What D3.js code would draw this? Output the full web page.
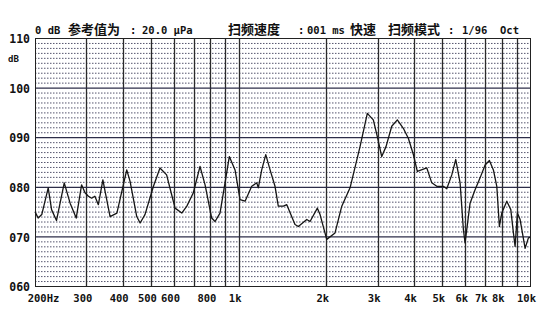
<!DOCTYPE html>
<html>
<head>
<meta charset="utf-8">
<script src="https://cdn.jsdelivr.net/npm/d3@7"></script>
<style>
  body { margin: 0; background: #fff; }
  svg { display: block; }
  .lbl { font-family: 'DejaVu Sans Mono', monospace; font-weight: bold; fill: #111; }
  .cjk { font-family: 'Noto Sans CJK SC', sans-serif; font-weight: bold; fill: #111; }
</style>
</head>
<body>
<script>
// Data
var freqs = [200, 205, 211, 222, 228, 237, 252, 264, 277, 289, 297, 305, 313, 321, 330, 342, 348, 362, 382, 413,
  424, 447, 459, 477, 510, 537, 566, 589, 605, 638, 664, 699, 737, 767, 808, 830, 863, 898, 929, 972,
  1011, 1052, 1109, 1154, 1168, 1200, 1239, 1282, 1333, 1368, 1424, 1463, 1561, 1603, 1713, 1758, 1863, 1903, 2006, 2142,
  2259, 2412, 2610, 2765, 2899, 2992, 3098, 3205, 3353, 3505, 3675, 3823, 3978, 4105, 4424, 4601, 4787, 5044, 5180, 5389,
  5562, 5755, 5907, 5986, 6228, 6479, 6741, 7013, 7256, 7488, 7692, 7851, 8002, 8325, 8592, 8771, 8889, 9052, 9248, 9621,
  9876, 10000]
var levels = [75.0, 73.7, 74.4, 79.8, 75.4, 73.2, 80.8, 76.7, 73.7, 80.4, 78.8, 78.1, 77.7, 78.1, 76.4, 81.4, 79.1, 74.0, 74.7, 83.4,
  81.1, 74.0, 72.7, 74.4, 80.1, 83.8, 82.4, 78.4, 75.7, 74.7, 76.1, 78.8, 84.1, 80.4, 73.7, 73.0, 74.7, 80.8, 86.1, 83.4,
  77.4, 77.1, 80.1, 80.8, 79.8, 83.4, 86.5, 83.4, 80.1, 76.1, 76.1, 76.4, 72.4, 72.0, 73.4, 73.0, 75.7, 74.4, 69.4, 70.7,
  76.1, 79.8, 88.1, 94.8, 93.5, 90.1, 86.1, 88.1, 92.2, 93.5, 91.8, 89.8, 86.5, 83.1, 83.8, 80.8, 80.1, 80.1, 79.6, 82.4,
  85.5, 80.8, 71.4, 68.7, 76.7, 79.4, 81.8, 84.4, 85.3, 83.4, 80.1, 72.0, 74.7, 77.1, 75.4, 70.7, 68.0, 74.7, 73.4, 67.6,
  69.7, 69.8]

var yTicks = [60, 70, 80, 90, 100, 110]
var xTickValues = [200, 300, 400, 500, 600, 800, 1000, 2000, 3000, 4000, 5000, 6000, 7000, 8000, 10000]
var xTickLabels = ['200Hz', '300', '400', '500', '600', '800', '1k', '2k', '3k', '4k', '5k', '6k', '7k', '8k', '10k']
var gridFreqs = [300, 400, 500, 600, 700, 800, 900, 1000, 2000, 3000, 4000, 5000, 6000, 7000, 8000, 9000]

var margin = { top: 38, right: 20, bottom: 26, left: 35 }
var w = 550 - margin.left - margin.right
var h = 312 - margin.top - margin.bottom

var xScale = d3.scaleLog().domain([200, 10000]).range([0, w])
var yScale = d3.scaleLinear().domain([60, 110]).range([h, 0])

var svg = d3.select('body').append('svg')
    .attr('width', 550)
    .attr('height', 312)
  .append('g')
    .attr('transform', 'translate(' + margin.left + ',' + margin.top + ')')

// dotted 1 dB lines
svg.append('g').selectAll('line')
    .data(d3.range(61, 110).filter(function (d) { return d % 10 !== 0 }))
    .enter().append('line')
    .attr('x1', 0).attr('x2', w)
    .attr('y1', function (d) { return yScale(d) + 0.5 })
    .attr('y2', function (d) { return yScale(d) + 0.5 })
    .attr('stroke', '#55556e')
    .attr('stroke-width', 1)
    .attr('stroke-dasharray', '1.5,1.5')

// vertical grid
svg.append('g').selectAll('line')
    .data(gridFreqs)
    .enter().append('line')
    .attr('x1', function (d) { return Math.round(xScale(d)) + 0.5 })
    .attr('x2', function (d) { return Math.round(xScale(d)) + 0.5 })
    .attr('y1', 0).attr('y2', h)
    .attr('stroke', '#2a2a2a')
    .attr('stroke-width', 1.3)

// solid 10 dB lines
svg.append('g').selectAll('line')
    .data(yTicks)
    .enter().append('line')
    .attr('x1', 0).attr('x2', w)
    .attr('y1', function (d) { return yScale(d) + 0.5 })
    .attr('y2', function (d) { return yScale(d) + 0.5 })
    .attr('stroke', '#2c2c48')
    .attr('stroke-width', 1.2)

svg.append('rect')
    .attr('x', 0.5).attr('y', 0.5)
    .attr('width', w).attr('height', h)
    .attr('fill', 'none')
    .attr('stroke', '#222')

// trace
var line = d3.line()
    .x(function (d) { return xScale(d[0]) })
    .y(function (d) { return yScale(d[1]) })
svg.append('path')
    .datum(freqs.map(function (f, i) { return [f, levels[i]] }))
    .attr('d', line)
    .attr('fill', 'none')
    .attr('stroke', '#151515')
    .attr('stroke-width', 1.3)
    .attr('stroke-linejoin', 'round')

// Y axis
var yAxis = d3.axisLeft(yScale)
    .tickValues(yTicks)
    .tickSize(0)
    .tickPadding(5)
    .tickFormat(function (d) { return d3.format('03d')(d) })
svg.append('g')
    .call(yAxis)
    .call(function (g) { g.select('.domain').remove() })
    .selectAll('text')
    .attr('class', 'lbl')
    .style('font-size', '11.5px')
    .attr('dy', '0.4em')

svg.append('text')
    .attr('class', 'lbl')
    .attr('x', -27).attr('y', 24)
    .style('font-size', '9px')
    .text('dB')

// X axis
var xAxis = d3.axisBottom(xScale)
    .tickValues(xTickValues)
    .tickSize(0)
    .tickPadding(9)
    .tickFormat(function (d, i) { return xTickLabels[i] })
svg.append('g')
    .attr('transform', 'translate(0,' + h + ')')
    .call(xAxis)
    .call(function (g) { g.select('.domain').remove() })
    .selectAll('text')
    .attr('class', 'lbl')
    .attr('dx', function (d, i) { return i === 0 ? '8' : '-4' })
    .style('font-size', '10.5px')

// header
var header = [
  ['0 dB', 35, 'lbl'], ['参考值为', 68, 'cjk'], [':', 130, 'lbl'], ['20.0 μPa', 142, 'lbl'],
  ['扫频速度', 228, 'cjk'], [':', 298, 'lbl'], ['001 ms', 307, 'lbl'], ['快速', 350, 'cjk'],
  ['扫频模式', 388, 'cjk'], [':', 448, 'lbl'], ['1/96', 462, 'lbl'], ['Oct', 500, 'lbl']
]
d3.select('svg').append('g').selectAll('text')
    .data(header)
    .enter().append('text')
    .attr('class', function (d) { return d[2] })
    .attr('x', function (d) { return d[1] })
    .attr('y', 34)
    .style('font-size', function (d) { return d[2] === 'cjk' ? '13px' : '10.5px' })
    .style('white-space', 'pre')
    .text(function (d) { return d[0] })
</script>
</body>
</html>
